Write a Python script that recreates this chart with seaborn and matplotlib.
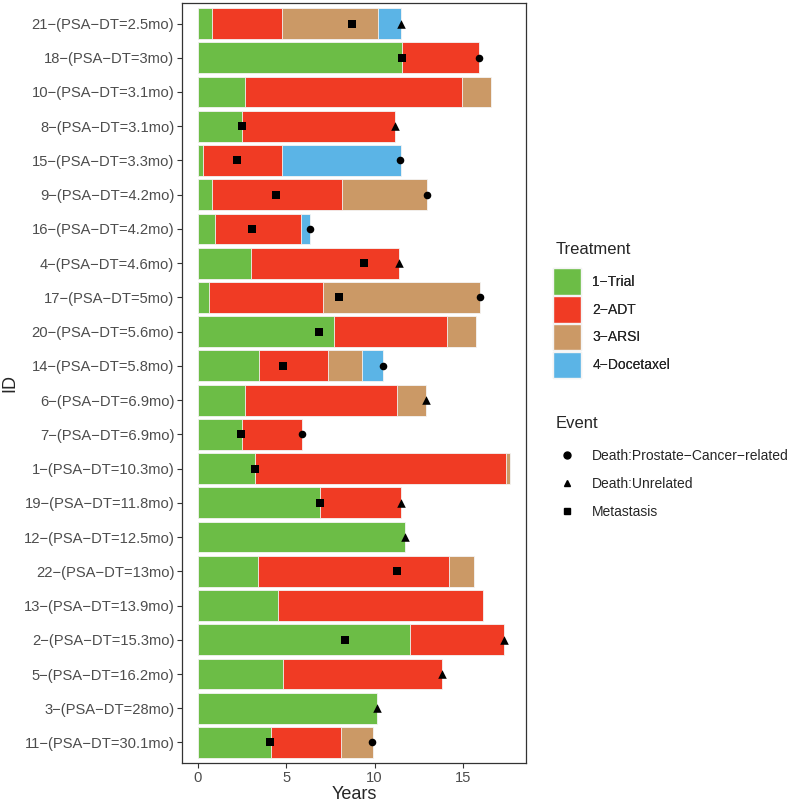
import pandas as pd
import matplotlib
matplotlib.use('Agg')
import matplotlib.pyplot as plt
from matplotlib.patches import Patch
from matplotlib.lines import Line2D
import seaborn as sns

sns.set_theme(style='white')
plt.rcParams['font.family'] = ['Liberation Sans', 'DejaVu Sans']

M = '\u2212'

# patients, top to bottom
ids = ['21', '18', '10', '8', '15', '9', '16', '4', '17', '20', '14',
       '6', '7', '1', '19', '12', '22', '13', '2', '5', '3', '11']
psa_dt = ['2.5', '3', '3.1', '3.1', '3.3', '4.2', '4.2', '4.6', '5', '5.6', '5.8',
          '6.9', '6.9', '10.3', '11.8', '12.5', '13', '13.9', '15.3', '16.2', '28', '30.1']

# cumulative end of each treatment segment (years), None = not given
trial_end = [0.80, 11.55, 2.66, 2.53, 0.28, 0.82, 0.97, 3.01, 0.67, 7.71, 3.46,
             2.66, 2.53, 3.22, 6.89, 11.74, 3.44, 4.53, 12.02, 4.81, 10.15, 4.12]
adt_end = [4.79, 15.90, 14.94, 11.16, 4.79, 8.16, 5.86, 11.38, 7.06, 14.08, 7.38,
           11.24, 5.90, 17.43, 11.48, None, 14.19, 16.14, 17.30, 13.80, None, 8.11]
arsi_end = [10.17, None, 16.59, None, None, 12.94, None, None, 15.93, 15.75, 9.29,
            12.90, None, 17.67, None, None, 15.63, None, None, None, None, 9.89]
doce_end = [11.48, None, None, None, 11.48, None, 6.33, None, None, None, 10.48,
            None, None, None, None, None, None, None, None, None, None, None]

# events
ev_id = ['21', '21', '18', '18', '8', '8', '15', '15', '9', '9', '16', '16',
         '4', '4', '17', '17', '20', '14', '14', '6', '7', '7', '1',
         '19', '19', '12', '22', '2', '2', '5', '3', '11', '11']
ev_type = ['Metastasis', 'Death:Unrelated', 'Metastasis', 'Death:Prostate-Cancer-related',
           'Metastasis', 'Death:Unrelated', 'Metastasis', 'Death:Prostate-Cancer-related',
           'Metastasis', 'Death:Prostate-Cancer-related', 'Metastasis', 'Death:Prostate-Cancer-related',
           'Metastasis', 'Death:Unrelated', 'Metastasis', 'Death:Prostate-Cancer-related',
           'Metastasis', 'Metastasis', 'Death:Prostate-Cancer-related', 'Death:Unrelated',
           'Metastasis', 'Death:Prostate-Cancer-related', 'Metastasis',
           'Metastasis', 'Death:Unrelated', 'Death:Unrelated', 'Metastasis',
           'Metastasis', 'Death:Unrelated', 'Death:Unrelated', 'Death:Unrelated',
           'Metastasis', 'Death:Prostate-Cancer-related']
ev_time = [8.71, 11.48, 11.55, 15.90, 2.49, 11.16, 2.23, 11.46, 4.44, 12.94, 3.05, 6.33,
           9.42, 11.38, 7.96, 15.93, 6.85, 4.85, 10.48, 12.90, 2.43, 5.90, 3.24,
           6.89, 11.48, 11.74, 11.24, 8.35, 17.30, 13.80, 10.15, 4.08, 9.85]

treatments = ['1' + M + 'Trial', '2' + M + 'ADT', '3' + M + 'ARSI', '4' + M + 'Docetaxel']
colors = ['#6CBD46', '#F03B24', '#CB9966', '#5BB4E6']
event_names = ['Death:Prostate-Cancer-related', 'Death:Unrelated', 'Metastasis']
event_labels = ['Death:Prostate' + M + 'Cancer' + M + 'related', 'Death:Unrelated', 'Metastasis']
event_markers = ['o', '^', 's']

labels = [f'{i}{M}(PSA{M}DT={p}mo)' for i, p in zip(ids, psa_dt)]

fig = plt.figure(figsize=(8, 8.06), dpi=100)
ax = fig.add_axes([0.2275, 0.0533, 0.43, 0.943])

# draw the latest segment first, earlier ones on top
ends = [trial_end, adt_end, arsi_end, doce_end]
for k in [3, 2, 1, 0]:
    df = pd.DataFrame({'label': labels, 'end': ends[k]}).dropna()
    sns.barplot(data=df, x='end', y='label', order=labels, orient='h',
                color=colors[k], saturation=1, width=0.9,
                edgecolor='#f4f4f4', linewidth=0.6, ax=ax)

ev = pd.DataFrame({'id': ev_id, 'type': ev_type, 'time': ev_time})
ev['pos'] = [ids.index(i) for i in ev['id']]
for name, mk in zip(event_names, event_markers):
    sub = ev[ev['type'] == name]
    sns.scatterplot(data=sub, x='time', y='pos', marker=mk, color='black',
                    s=30 if mk != '^' else 38, linewidth=0, ax=ax, zorder=5)

ax.set_xlim(-0.88, 18.55)
ax.set_ylim(len(ids) - 0.4, -0.6)
ax.set_xticks([0, 5, 10, 15])
ax.set_yticks(range(len(ids)))
ax.set_yticklabels(labels)
ax.tick_params(axis='both', labelsize=10.6, labelcolor='#4D4D4D', length=3.5,
               width=0.8, color='#333333', left=True, bottom=True, pad=2)
ax.set_xlabel('Years', fontsize=13, labelpad=1)
ax.set_ylabel('ID', fontsize=13, labelpad=4)
for s in ax.spines.values():
    s.set_color('#333333')
    s.set_linewidth(0.9)
ax.grid(False)

# legends: titles as separate text so the gap below them matches
fig.text(0.694, 1 - 250 / 806, 'Treatment', fontsize=12, va='center', ha='left')
h1 = [Patch(facecolor=c, edgecolor='#f4f4f4', label=t) for c, t in zip(colors, treatments)]
leg1 = fig.legend(handles=h1, loc='upper left',
                  bbox_to_anchor=(0.676, 0.6824), frameon=False, fontsize=10,
                  handlelength=2.0, handleheight=2.55,
                  labelspacing=0.09, handletextpad=0.8)
fig.text(0.694, 1 - 424 / 806, 'Event', fontsize=12, va='center', ha='left')
h2 = [Line2D([0], [0], marker=m, color='black', linestyle='none', markersize=5, label=l)
      for m, l in zip(event_markers, event_labels)]
fig.legend(handles=h2, loc='upper left',
           bbox_to_anchor=(0.676, 0.4584), frameon=False, fontsize=10,
           handlelength=2.0, labelspacing=1.0, handletextpad=0.8)
fig.add_artist(leg1)

fig.savefig('out.png', dpi=100)
